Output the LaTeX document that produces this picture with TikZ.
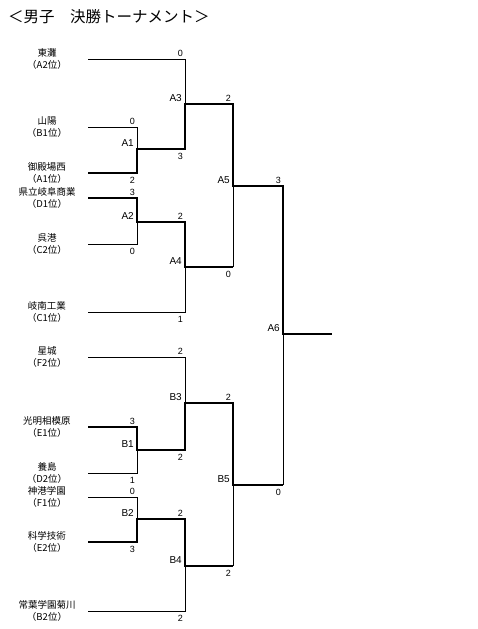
\documentclass[tikz,border=0pt]{standalone}
\usepackage{fontspec}
\setmainfont{Liberation Sans}
\newfontfamily\jpfont{Noto Sans CJK JP}
\usetikzlibrary{positioning}

\begin{document}
\begin{tikzpicture}[
    x=1pt, y=-1pt,
    team/.style={font=\jpfont\fontsize{9.5}{11.5}\selectfont, align=center, inner sep=0pt},
    game/.style={anchor=south east, font=\fontsize{10}{10}\selectfont, inner sep=0pt, xshift=-3pt, yshift=2pt},
    scoreup/.style={anchor=south east, font=\fontsize{9}{9}\selectfont, inner sep=0pt, xshift=-2pt, yshift=2pt},
    scoredown/.style={anchor=north east, font=\fontsize{9}{9}\selectfont, inner sep=0pt, xshift=-2pt, yshift=-4pt},
    lose/.style={line width=0.8pt},
    win/.style={line width=2.4pt}
]
\useasboundingbox (0,0) rectangle (478,629);

% Title
\node (title) [anchor=west, font=\jpfont\fontsize{15.5}{16}\selectfont, inner sep=0pt] at (8,17) {＜男子　決勝トーナメント＞};

% Teams
\node (higashinada) [team] at (47,59)  {東灘\\（A2位）};
\node (sanyo)       [team] at (47,127) {山陽\\（B1位）};
\node (gotemba)     [team] at (47,173) {御殿場西\\（A1位）};
\node (gifusho)     [team] at (47,198) {県立岐阜商業\\（D1位）};
\node (kureko)      [team] at (47,244) {呉港\\（C2位）};
\node (ginan)       [team] at (47,312) {岐南工業\\（C1位）};
\node (seijo)       [team] at (47,357) {星城\\（F2位）};
\node (komyo)       [team] at (47,427) {光明相模原\\（E1位）};
\node (yoshima)     [team] at (47,473) {養島\\（D2位）};
\node (shinko)      [team] at (47,497) {神港学園\\（F1位）};
\node (kagaku)      [team] at (47,542) {科学技術\\（E2位）};
\node (tokoha)      [team] at (47,611) {常葉学園菊川\\（B2位）};

% Line starts
\coordinate (higashinada-l) at (88,59);
\coordinate (sanyo-l)       at (88,127);
\coordinate (gotemba-l)     at (88,173);
\coordinate (gifusho-l)     at (88,198);
\coordinate (kureko-l)      at (88,244);
\coordinate (ginan-l)       at (88,312);
\coordinate (seijo-l)       at (88,357);
\coordinate (komyo-l)       at (88,427);
\coordinate (yoshima-l)     at (88,473);
\coordinate (shinko-l)      at (88,497);
\coordinate (kagaku-l)      at (88,542);
\coordinate (tokoha-l)      at (88,611);

% Games
\coordinate (A1) at (137,149);
\coordinate (A2) at (137,222);
\coordinate (A3) at (185,104);
\coordinate (A4) at (185,267);
\coordinate (A5) at (233,186);
\coordinate (A6) at (283,334);
\coordinate (B1) at (137,450);
\coordinate (B2) at (137,519);
\coordinate (B3) at (185,403);
\coordinate (B4) at (185,566);
\coordinate (B5) at (233,485);
\coordinate (champ) at (332,334);

\foreach \g in {A1,A2,A3,A4,A5,A6,B1,B2,B3,B4,B5}
    \node [game] at (\g) {\g};

% Losing lines
\draw[lose] (higashinada-l) -| (A3);
\draw[lose] (sanyo-l) -| (A1);
\draw[lose] (kureko-l) -| (A2);
\draw[lose] (ginan-l) -| (A4);
\draw[lose] (A4 -| A5) -- (A5);
\draw[lose] (seijo-l) -| (B3);
\draw[lose] (yoshima-l) -| (B1);
\draw[lose] (shinko-l) -| (B2);
\draw[lose] (tokoha-l) -| (B4);
\draw[lose] (B4 -| B5) -- (B5);
\draw[lose] (B5 -| A6) -- (A6);

% Winning lines
\draw[win] (gotemba-l) -| (A1) -| (A3) -| (A5) -| (A6) -- (champ);
\draw[win] (gifusho-l) -| (A2) -| (A4) -- (A4 -| A5);
\draw[win] (komyo-l) -| (B1) -| (B3) -| (B5) -- (B5 -| A6);
\draw[win] (kagaku-l) -| (B2) -| (B4) -- (B4 -| B5);

% Scores
\node [scoreup]   at (sanyo-l -| A1) {0};
\node [scoredown] at (gotemba-l -| A1) {2};
\node [scoreup]   at (gifusho-l -| A2) {3};
\node [scoredown] at (kureko-l -| A2) {0};
\node [scoreup]   at (komyo-l -| B1) {3};
\node [scoredown] at (yoshima-l -| B1) {1};
\node [scoreup]   at (shinko-l -| B2) {0};
\node [scoredown] at (kagaku-l -| B2) {3};
\node [scoreup]   at (higashinada-l -| A3) {0};
\node [scoredown] at (A1 -| A3) {3};
\node [scoreup]   at (A2 -| A4) {2};
\node [scoredown] at (ginan-l -| A4) {1};
\node [scoreup]   at (seijo-l -| B3) {2};
\node [scoredown] at (B1 -| B3) {2};
\node [scoreup]   at (B2 -| B4) {2};
\node [scoredown] at (tokoha-l -| B4) {2};
\node [scoreup]   at (A3 -| A5) {2};
\node [scoredown] at (A4 -| A5) {0};
\node [scoreup]   at (B3 -| B5) {2};
\node [scoredown] at (B4 -| B5) {2};
\node [scoreup]   at (A5 -| A6) {3};
\node [scoredown] at (B5 -| A6) {0};

\end{tikzpicture}
\end{document}
